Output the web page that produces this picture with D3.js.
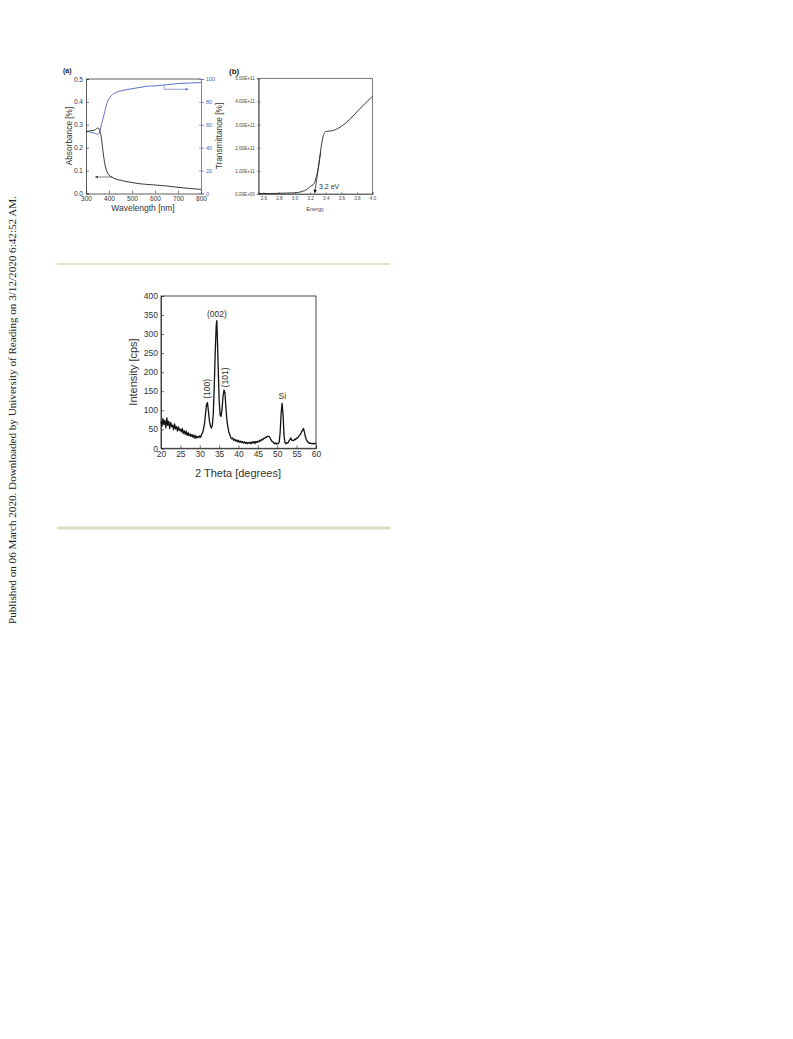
<!DOCTYPE html>
<html><head><meta charset="utf-8">
<script src="https://cdn.jsdelivr.net/npm/d3@7"></script>
<style>body{margin:0;background:#fff}svg{display:block}</style>
</head><body>
<svg id="c" width="793" height="1039"></svg>
<script>
// ---------- DATA ----------
const absWl  = [300,310,320,330,340,345,350,355,358,360,362,365,368,372,376,380,385,390,395,400,410,420,430,440,450,470,500,530,560,600,650,700,750,800];
const absVal = [0.270,0.272,0.274,0.275,0.278,0.282,0.286,0.285,0.280,0.272,0.266,0.255,0.235,0.200,0.168,0.140,0.115,0.099,0.088,0.080,0.072,0.067,0.063,0.060,0.058,0.053,0.048,0.043,0.040,0.037,0.033,0.027,0.022,0.018];
const transVal = [54,54,53.5,53,52.5,52,51.8,52,53,54,55.5,58,61,64,67,70,74.5,78,81,83,85.5,87,88.2,89,89.5,90.5,91.5,92.5,93.5,94,95,96,96.5,96.8];
const absTicks = [0,0.1,0.2,0.3,0.4,0.5];
const wlTicks = [300,400,500,600,700,800];
const transTicks = [0,20,40,60,80,100];
const absArrowWl = [415,340], absArrowVal = [0.072,0.072];
const trArrowWl = [640,640,745], trArrowVal = [94,91,91];

const energy = [2.54,2.6,2.7,2.8,2.9,3.0,3.05,3.1,3.15,3.2,3.25,3.28,3.3,3.32,3.34,3.36,3.38,3.4,3.45,3.5,3.55,3.6,3.7,3.8,3.9,4.0];
const absCoef = [0.02,0.02,0.02,0.03,0.04,0.05,0.07,0.11,0.18,0.32,0.45,0.75,1.05,1.5,2.0,2.4,2.62,2.7,2.72,2.75,2.82,2.92,3.2,3.55,3.9,4.22];
const energyTicks = [2.6,2.8,3.0,3.2,3.4,3.6,3.8,4.0];
const coefTicks = [0,1,2,3,4,5];
const coefTickLabels = ["0.00E+00","1.00E+11","2.00E+11","3.00E+11","4.00E+11","5.00E+11"];
const tangentE = [3.335,3.258], tangentV = [1.8,0.03];

const theta = [20,20.25,20.5,20.75,21,21.25,21.5,21.75,22,22.25,22.5,22.75,23,23.25,23.5,23.75,24,24.25,24.5,24.75,25,25.25,25.5,25.75,26,26.25,26.5,26.75,27,27.25,27.5,27.75,28,28.25,28.5,28.75,29,29.25,29.5,29.75,30,30.25,30.5,30.75,31,31.25,31.5,31.75,32,32.25,32.5,32.75,33,33.25,33.5,33.75,34,34.25,34.4,34.5,34.75,35,35.25,35.5,35.75,36,36.25,36.5,36.75,37,37.25,37.5,37.75,38,38.25,38.5,38.75,39,39.25,39.5,39.75,40,40.25,40.5,40.75,41,41.25,41.5,41.75,42,42.25,42.5,42.75,43,43.25,43.5,43.75,44,44.25,44.5,44.75,45,45.25,45.5,45.75,46,46.25,46.5,46.75,47,47.25,47.5,47.75,48,48.25,48.5,48.75,49,49.25,49.5,49.75,50,50.25,50.5,50.75,51,51.25,51.5,51.75,52,52.25,52.5,52.75,53,53.25,53.5,53.75,54,54.25,54.5,54.75,55,55.25,55.5,55.75,56,56.25,56.5,56.75,57,57.25,57.5,57.75,58,58.25,58.5,58.75,59,59.25,59.5,59.75,60];
const counts = [70,58,78,62,73,54,80,60,71,52,68,57,61,49,64,51,57,45,56,47,50,43,52,39,46,37,45,34,41,33,38,31,36,29,35,26,33,27,31,28,33,29,37,41,52,66,92,115,120,96,72,59,53,61,92,165,255,322,335,305,215,128,88,84,102,136,153,146,108,74,56,43,36,29,25,27,21,24,19,22,17,21,16,19,15,18,14,17,13,16,12,15,13,16,12,17,14,18,13,18,15,19,17,21,19,24,22,26,26,29,29,32,31,30,25,21,17,16,12,14,11,13,12,16,42,92,118,88,33,15,12,15,14,19,23,27,21,21,20,24,23,27,27,31,34,37,43,47,52,43,31,23,19,15,13,14,12,13,11,13,12,14];
const thetaTicks = [20,25,30,35,40,45,50,55,60];
const countTicks = [0,50,100,150,200,250,300,350,400];
const peakLabels = ["(100)","(002)","(101)","Si"];
const peakTheta = [31.8,34.4,36.3,51.3];
const peakCount = [130,345,160,130];

// ---------- DRAW ----------
const svg = d3.select("#c");
svg.append("rect").attr("width",793).attr("height",1039).attr("fill","#fff");
const SANS = "Liberation Sans, Arial, sans-serif";
const BLUE = "#4a62c0";

// side text
svg.append("text").attr("transform","translate(15.5,624) rotate(-90)")
  .attr("font-family","Liberation Serif, Times New Roman, serif").attr("font-size",11)
  .attr("textLength",428).attr("lengthAdjust","spacingAndGlyphs").attr("fill","#222")
  .text("Published on 06 March 2020. Downloaded by University of Reading on 3/12/2020 6:42:52 AM.");

// separators
svg.append("rect").attr("x",57).attr("y",263).attr("width",333).attr("height",2).attr("fill","#e4e1cf");
svg.append("rect").attr("x",57).attr("y",526.5).attr("width",333).attr("height",3).attr("fill","#e0dcc4");

function arrowHead(g, x, y, dir, color, size){
  const s = size, a = 0.45;
  const p = [[x,y],[x - s*Math.cos(dir - a), y - s*Math.sin(dir - a)],[x - s*Math.cos(dir + a), y - s*Math.sin(dir + a)]];
  g.append("path").attr("d","M"+p.map(d=>d.join(",")).join("L")+"Z").attr("fill",color);
}

// ---------- Panel (a) ----------
{
  const x = d3.scaleLinear().domain([300,800]).range([86,201]);
  const yL = d3.scaleLinear().domain([0,0.5]).range([193.5,79]);
  const yR = d3.scaleLinear().domain([0,100]).range([193.5,79]);
  const g = svg.append("g").attr("font-family",SANS);
  g.append("line").attr("x1",86).attr("x2",201).attr("y1",79).attr("y2",79).attr("stroke","#333").attr("stroke-width",0.8);
  const ax = g.append("g").attr("transform","translate(0,193.5)").call(d3.axisBottom(x).tickValues(wlTicks).tickSize(-3).tickPadding(3).tickFormat(d3.format("d")));
  const ay = g.append("g").attr("transform","translate(86,0)").call(d3.axisLeft(yL).tickValues(absTicks).tickSize(-3).tickPadding(3).tickFormat(d3.format(".1f")));
  const ar = g.append("g").attr("transform","translate(201,0)").call(d3.axisRight(yR).tickValues(transTicks).tickSize(3).tickPadding(2));
  [ax,ay].forEach(a=>{a.select(".domain").attr("stroke","#333").attr("stroke-width",0.8);a.selectAll("line").attr("stroke","#333").attr("stroke-width",0.6);a.selectAll("text").attr("font-size",6.5).attr("fill","#333").attr("font-family",SANS);});
  ar.select(".domain").attr("stroke",BLUE).attr("stroke-width",0.8);
  ar.selectAll("line").attr("stroke",BLUE).attr("stroke-width",0.6).attr("x1",-2);
  ar.selectAll("text").attr("font-size",5.5).attr("fill",BLUE).attr("font-family",SANS);
  const blk = d3.line().x((d,i)=>x(absWl[i])).y(d=>yL(d)).curve(d3.curveMonotoneX);
  const blu = d3.line().x((d,i)=>x(absWl[i])).y(d=>yR(d)).curve(d3.curveMonotoneX);
  g.append("path").attr("d",blu(transVal)).attr("fill","none").attr("stroke",BLUE).attr("stroke-width",0.9);
  g.append("path").attr("d",blk(absVal)).attr("fill","none").attr("stroke","#222").attr("stroke-width",0.9);
  const la = d3.line().x((d,i)=>x(absArrowWl[i])).y(d=>yL(d));
  g.append("path").attr("d",la(absArrowVal)).attr("stroke","#333").attr("stroke-width",0.6).attr("fill","none");
  arrowHead(g, x(absArrowWl[1]), yL(absArrowVal[1]), Math.PI, "#222", 3);
  const lb = d3.line().x((d,i)=>x(trArrowWl[i])).y(d=>yR(d));
  g.append("path").attr("d",lb(trArrowVal)).attr("stroke",BLUE).attr("stroke-width",0.6).attr("fill","none");
  arrowHead(g, x(trArrowWl[2]), yR(trArrowVal[2]), 0, BLUE, 3);
  g.append("text").attr("x",63).attr("y",73).attr("font-size",7).attr("font-weight","bold").attr("fill","#222").text("(a)");
  g.append("text").attr("transform","translate(71.5,136) rotate(-90)").attr("text-anchor","middle").attr("font-size",8.3).attr("fill","#333").text("Absorbance [%]");
  g.append("text").attr("transform","translate(222,136) rotate(-90)").attr("text-anchor","middle").attr("font-size",8.3).attr("fill","#333").text("Transmittance [%]");
  g.append("text").attr("x",143).attr("y",211).attr("text-anchor","middle").attr("font-size",8.5).attr("fill","#333").text("Wavelength [nm]");
}

// ---------- Panel (b) ----------
{
  const x = d3.scaleLinear().domain([2.54,4.0]).range([258.7,372.5]);
  const y = d3.scaleLinear().domain([0,5]).range([194,78.3]);
  const g = svg.append("g").attr("font-family",SANS);
  g.append("rect").attr("x",258.7).attr("y",78.3).attr("width",113.8).attr("height",115.7).attr("fill","none").attr("stroke","#444").attr("stroke-width",0.7);
  const ax = g.append("g").attr("transform","translate(0,194)").call(d3.axisBottom(x).tickValues(energyTicks).tickSize(-2).tickPadding(3).tickFormat(d3.format(".1f")));
  const ay = g.append("g").attr("transform","translate(258.7,0)").call(d3.axisLeft(y).tickValues(coefTicks).tickSize(2).tickPadding(2).tickFormat((d,i)=>coefTickLabels[i]));
  [ax,ay].forEach(a=>{a.select(".domain").attr("stroke","#444").attr("stroke-width",0.7);a.selectAll("line").attr("stroke","#444").attr("stroke-width",0.5);a.selectAll("text").attr("font-size",4.6).attr("fill","#444").attr("font-family",SANS);});
  ay.selectAll("line").attr("x1",2).attr("x2",-1.5);
  const ln = d3.line().x((d,i)=>x(energy[i])).y(d=>y(d)).curve(d3.curveMonotoneX);
  g.append("path").attr("d",ln(absCoef)).attr("fill","none").attr("stroke","#222").attr("stroke-width",0.9);
  const tl = d3.line().x((d,i)=>x(tangentE[i])).y(d=>y(d));
  g.append("path").attr("d",tl(tangentV)).attr("fill","none").attr("stroke","#222").attr("stroke-width",0.8);
  const ang = Math.atan2(y(tangentV[1])-y(tangentV[0]), x(tangentE[1])-x(tangentE[0]));
  arrowHead(g, x(tangentE[1]), y(tangentV[1]), ang, "#111", 4);
  g.append("text").attr("x",319).attr("y",189).attr("font-size",7).attr("fill","#333").text("3.2 eV");
  g.append("text").attr("x",229).attr("y",74).attr("font-size",8).attr("font-weight","bold").attr("fill","#222").text("(b)");
  g.append("text").attr("x",315).attr("y",211).attr("text-anchor","middle").attr("font-size",5.5).attr("fill","#444").text("Energy");
}

// ---------- XRD ----------
{
  const x = d3.scaleLinear().domain([20,60]).range([161,316]);
  const y = d3.scaleLinear().domain([0,400]).range([448.3,296]);
  const g = svg.append("g").attr("font-family",SANS);
  g.append("rect").attr("x",161).attr("y",296).attr("width",155).attr("height",152.3).attr("fill","none").attr("stroke","#333").attr("stroke-width",0.9);
  const ax = g.append("g").attr("transform","translate(0,448.3)").call(d3.axisBottom(x).tickValues(thetaTicks).tickSize(-3).tickPadding(3));
  const ay = g.append("g").attr("transform","translate(161,0)").call(d3.axisLeft(y).tickValues(countTicks).tickSize(-3).tickPadding(3));
  [ax,ay].forEach(a=>{a.select(".domain").attr("stroke","#333").attr("stroke-width",0.9);a.selectAll("line").attr("stroke","#333").attr("stroke-width",0.7);a.selectAll("text").attr("font-size",8.5).attr("fill","#333").attr("font-family",SANS);});
  const ln = d3.line().x((d,i)=>x(theta[i])).y(d=>y(d));
  g.append("path").attr("d",ln(counts)).attr("fill","none").attr("stroke","#111").attr("stroke-width",1.3).attr("stroke-linejoin","round");
  g.append("text").attr("transform",`translate(${x(peakTheta[0])+3},${y(peakCount[0])}) rotate(-90)`).attr("font-size",8.5).attr("fill","#333").text(peakLabels[0]);
  g.append("text").attr("x",x(peakTheta[1])).attr("y",y(peakCount[1])).attr("text-anchor","middle").attr("font-size",8.5).attr("fill","#333").text(peakLabels[1]);
  g.append("text").attr("transform",`translate(${x(peakTheta[2])+4},${y(peakCount[2])}) rotate(-90)`).attr("font-size",8.5).attr("fill","#333").text(peakLabels[2]);
  g.append("text").attr("x",x(peakTheta[3])).attr("y",y(peakCount[3])).attr("text-anchor","middle").attr("font-size",8.5).attr("fill","#333").text(peakLabels[3]);
  g.append("text").attr("transform","translate(137,372) rotate(-90)").attr("text-anchor","middle").attr("font-size",11).attr("fill","#333").text("Intensity [cps]");
  g.append("text").attr("x",238).attr("y",477).attr("text-anchor","middle").attr("font-size",11).attr("fill","#333").text("2 Theta [degrees]");
}
</script>
</body></html>
